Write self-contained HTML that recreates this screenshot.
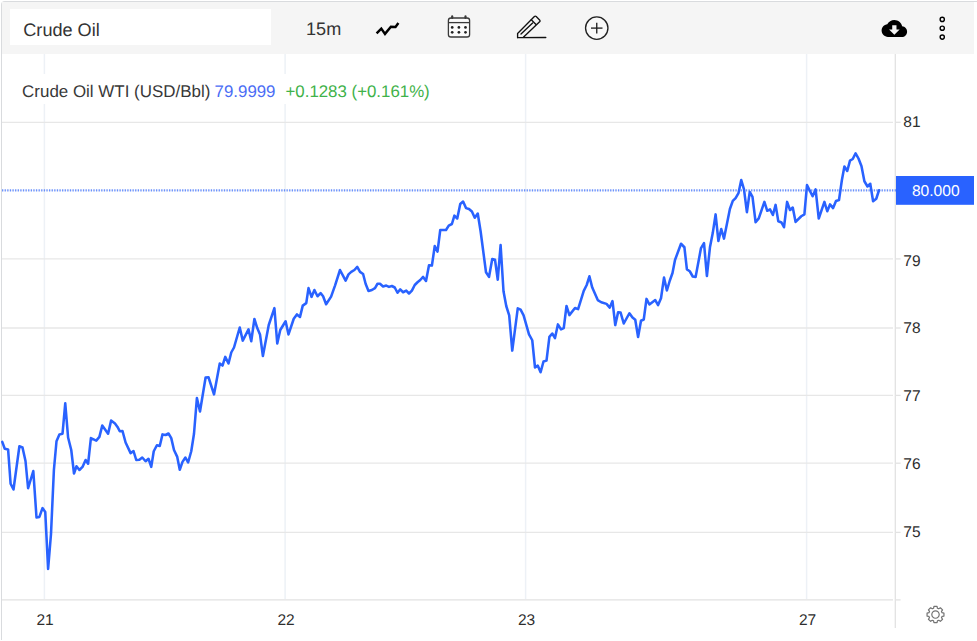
<!DOCTYPE html>
<html>
<head>
<meta charset="utf-8">
<title>Crude Oil</title>
<style>
html,body{margin:0;padding:0;background:#fff;}
body{width:977px;height:641px;overflow:hidden;position:relative;font-family:"Liberation Sans",sans-serif;color:#222;}
#frame{position:absolute;left:1px;top:1px;width:980px;height:639px;border:1px solid #d9dbde;border-bottom:none;border-radius:4px 0 0 0;box-sizing:border-box;}
#toolbar{position:absolute;left:2px;top:2px;width:972px;height:52px;background:#f5f5f5;}
#search{position:absolute;left:10px;top:9px;width:260.5px;height:36px;background:#fff;}
.tt{position:absolute;font-size:18px;line-height:20px;white-space:nowrap;color:#333;}
#chart{position:absolute;left:0;top:0;}
#legend{position:absolute;left:14px;top:74px;height:30px;width:424px;background:#fff;}
#legend span{position:absolute;top:3px;font-size:16.85px;line-height:30px;white-space:nowrap;}
svg text{font-family:"Liberation Sans",sans-serif;text-rendering:geometricPrecision;}
.ax text{font-size:15.5px;fill:#2e2e2e;}
.ax text.pl{font-size:15.6px;fill:#fff;}
.tb text{font-size:18.1px;fill:#333;}
.lg text{font-size:16.85px;}.lg text.l1{font-size:16.96px;}
.lg .l1{fill:#383838;}.lg .l2{fill:#4a6cf5;}.lg .l3{fill:#3fb24a;}
</style>
</head>
<body>
<div id="frame"></div>
<div id="toolbar"></div>
<div id="search"></div>

<svg id="chart" width="977" height="641" viewBox="0 0 977 641">
  <!-- vertical grid -->
  <g stroke="#edf1f6" stroke-width="1.5">
    <line x1="44.4" y1="54" x2="44.4" y2="599"/>
    <line x1="285.1" y1="54" x2="285.1" y2="599"/>
    <line x1="525.6" y1="54" x2="525.6" y2="599"/>
    <line x1="806.6" y1="54" x2="806.6" y2="599"/>
  </g>
  <!-- horizontal grid -->
  <g stroke="#e7e7e7" stroke-width="1.3">
    <line x1="2" y1="122.3" x2="893" y2="122.3"/>
    <line x1="2" y1="190.4" x2="893" y2="190.4" opacity="0.25"/>
    <line x1="2" y1="258.9" x2="893" y2="258.9"/>
    <line x1="2" y1="328" x2="893" y2="328"/>
    <line x1="2" y1="395.4" x2="893" y2="395.4"/>
    <line x1="2" y1="463.2" x2="893" y2="463.2"/>
    <line x1="2" y1="532.4" x2="893" y2="532.4"/>
  </g>
  <!-- axis lines -->
  <g stroke="#e2e2e2" stroke-width="1.3">
    <line x1="895.3" y1="54" x2="895.3" y2="628"/>
    <line x1="2" y1="599.9" x2="893" y2="599.9"/>
    <line x1="896" y1="599.9" x2="900.6" y2="599.9"/>
  </g>
  <g id="series"><polyline id="ln" fill="none" stroke="#2962ff" stroke-width="2.55" stroke-linejoin="round" stroke-linecap="round" points="2.25,441.9 4.75,448.75 8.1,449.4 10.6,483.75 13.5,489.5 19.4,446.25 22.5,447.5 25.5,461 28.1,488.25 33.3,471 36.5,517.5 39.4,516.9 42.5,508.1 45.25,511.9 48.1,568.9 51,534 53.9,470 56.5,441.25 59.4,434.4 62.5,433.75 65.25,403.3 68.1,437.5 71.25,450 74,473.5 76.5,466.25 79.4,470 82.5,466.9 85.6,460 88.1,463.75 90.9,438.1 96.25,440.6 99.4,436.9 102.25,425.6 108.1,433.75 111.1,420.6 115,423.5 117.5,426.9 119.75,431.25 122.5,431 125.6,442.5 130.6,453.1 133.5,451 136.25,460 139.4,459.75 142.25,457.5 145.6,461.25 148.5,458.75 151.25,466.9 153.75,451.25 156.9,445.25 159.75,446 162.5,434.4 165.6,435 168.5,433.5 171.25,438.1 174,450 177.25,456.9 179.75,469.75 182.5,461.9 185.4,457.5 188.1,462.5 191.25,451.25 194,433.75 196.9,398.1 200,411.5 205.6,377.5 208.5,377.25 214,394.4 219.75,363.5 222.5,365.6 225.25,356.9 228.5,363.5 231.25,352.5 234,347.5 239.75,327.5 242.75,340.6 248.5,329.4 251.25,341.25 254.4,319 257.25,328.1 260,334.4 262.9,356 268.75,325 274.4,308.1 277.25,343.5 280.25,330 285.6,321.25 288.5,334.4 293.75,318.75 296.9,314.4 300,316.9 302.75,305.6 306.25,303.1 308.5,288.1 311.5,296.9 314.4,290 317.5,296.25 320.6,293.1 323.1,296.25 326.1,304.2 331.1,296.6 335,285.6 340,270 345.6,280.6 348.5,274.4 351.25,271.9 354.4,270 357.25,266.9 360,271.9 363.1,274 365.6,283.75 368.5,291 371.9,290 375,288.1 377.5,283.75 380,283.75 383.1,286.5 386.25,285.6 389,286.9 391.9,286 394.75,287.5 397.5,292.75 400.25,289.4 403.1,292.25 406.25,290.6 409,293.5 411.9,290.6 414.75,285 417.5,282.25 420.25,280 423.1,276.9 426,281 429,265.25 431.9,265.6 434.75,246 437.5,251.7 440.25,230 446,230 448.75,225.6 451.9,224 454.4,215.6 457.25,218.5 460.25,204 463.1,201.5 466,208.1 469,209 471.9,211.5 474.75,217.75 477.75,213.5 480.6,231.25 486,272.25 489,276.9 492.25,259 495,259.75 497.75,279.75 500.6,245.1 503.5,291.25 506.25,306 509.2,315.4 512.25,350.6 517.75,308.3 520.6,309.7 523.6,315.3 529,334.4 532.25,340.25 535,367.5 537.75,365.6 540.6,372.25 543.5,361.5 546.5,360.6 549.4,336.9 552.25,333.5 555,338.1 557.9,324.4 561,329.4 563.75,328.1 566.5,306 569.4,315.1 575,308 578.1,309.1 583.75,290.8 586.7,285 589.4,276.3 592.25,287.6 597.75,300.1 601.25,302.25 606.5,303.9 609.75,307.6 612.5,301.1 615.25,325.1 618.1,312.25 620.6,312.6 623.75,323.5 629.4,313.25 632.5,317.6 635.25,319.75 638.1,337 641,320.75 643.75,319.5 646.5,298.9 649.4,304.5 655.25,300.1 658.1,305.1 661,298.25 664,277.6 666.9,290.5 669.75,280.75 672.5,273 675,260 681,243.75 684.4,247.25 686.9,269.4 689.75,271.25 692.75,276.5 695.6,276.9 701,248.1 704,243.1 706.9,276 710,246.9 712.75,233.1 715.6,214.4 718.4,241 721.25,229 724,238.6 729.9,209 732.8,200.9 735.6,198.1 738.5,193.1 741.25,180 744,189.4 746.9,212.2 749.75,191.9 752.5,196.9 755.6,222.25 758.75,218.4 764.4,201.9 767.25,210.8 770,209.4 772.9,215 775.6,204.9 778.3,221.25 781.5,222.5 784,227.25 787.1,201.9 790,210 792.75,207.5 795.6,221.9 801.25,216.25 804.4,214.4 807,185.1 812.6,196.25 815.6,189.4 818.75,218.5 824.4,201.9 827.25,211.25 830,204.4 833.1,208.1 836,201 839,200 841.9,180 844.4,166.5 847.25,171 850,160.6 852.75,159 855.6,153.3 858.5,158.5 861.5,166.25 864.4,181.25 867.5,186.5 870.25,183.75 873.1,201.25 876.25,198.75 879,190.25"/></g>
  <!-- ticks -->
  <g stroke="#e2e2e2" stroke-width="1.3">
    <line x1="896" y1="122.3" x2="900.6" y2="122.3"/>
    <line x1="896" y1="258.9" x2="900.6" y2="258.9"/>
    <line x1="896" y1="328" x2="900.6" y2="328"/>
    <line x1="896" y1="395.4" x2="900.6" y2="395.4"/>
    <line x1="896" y1="463.2" x2="900.6" y2="463.2"/>
    <line x1="896" y1="532.4" x2="900.6" y2="532.4"/>
  </g>
  <!-- price line -->
  <line x1="2" y1="190.35" x2="896" y2="190.35" stroke="#2962ff" stroke-width="2.3" stroke-dasharray="1.3 1.31" opacity="0.68"/>
  <rect x="896" y="176" width="78" height="28.8" fill="#2962ff"/>
  <g class="ax">
    <text transform="translate(903.3 127.3)">81</text>
    <text transform="translate(903.3 265.5)">79</text>
    <text transform="translate(903.3 332.6)">78</text>
    <text transform="translate(903.3 400.8)">77</text>
    <text transform="translate(903.3 469.2)">76</text>
    <text transform="translate(903.3 536.65)">75</text>
    <text class="pl" transform="translate(911.9 196.3)">80.000</text>
    <text text-anchor="middle" transform="translate(45 624.7)">21</text>
    <text text-anchor="middle" transform="translate(286 624.7)">22</text>
    <text text-anchor="middle" transform="translate(526.6 624.7)">23</text>
    <text text-anchor="middle" transform="translate(807.6 624.7)">27</text>
  </g>
  <g class="tb">
    <text transform="translate(23.3 36.1)">Crude Oil</text>
    <text transform="translate(306 34.9)">15m</text>
  </g>
  <rect x="14" y="74" width="424" height="30" fill="#fff"/>
  <g class="lg">
    <text class="l1" transform="translate(22.1 96.6)">Crude Oil WTI (USD/Bbl)</text>
    <text class="l2" transform="translate(214.6 96.6)">79.9999</text>
    <text class="l3" transform="translate(285.5 96.6)">+0.1283 (+0.161%)</text>
  </g>
  <!-- toolbar icons -->
  <polyline points="376.6,33.3 381.3,28.6 385,33.9 390.9,26.7 395.5,27 398.4,23" fill="none" stroke="#000" stroke-width="2.45" stroke-linejoin="miter"/>
  <g fill="none" stroke="#3a3a3a" stroke-width="1.3">
    <rect x="448.4" y="18" width="21.2" height="19" rx="2.6" fill="#fbfbfb"/>
    <line x1="448.4" y1="22.6" x2="469.6" y2="22.6"/>
    <line x1="452.2" y1="16.4" x2="452.2" y2="18" stroke-width="2.2" stroke-linecap="round"/>
    <line x1="465.5" y1="16.4" x2="465.5" y2="18" stroke-width="2.2" stroke-linecap="round"/>
  </g>
  <g fill="#222">
    <circle cx="452.2" cy="27.4" r="1.35"/><circle cx="458.9" cy="27.4" r="1.35"/><circle cx="465.5" cy="27.4" r="1.35"/>
    <circle cx="452.2" cy="32.3" r="1.35"/><circle cx="458.9" cy="32.3" r="1.35"/><circle cx="465.5" cy="32.3" r="1.35"/>
  </g>
  <g fill="none" stroke="#111" stroke-width="1.35" stroke-linejoin="round" stroke-linecap="round">
    <path d="M517.6 37.7 L517.6 33.4 L534.4 16.6 Q535.3 15.7 536.2 16.6 L539.6 20 Q540.5 20.9 539.6 21.8 L523.4 37.3 L517.6 37.7 L545.8 37.5"/>
    <line x1="531.3" y1="19.7" x2="536" y2="24.4"/>
    <line x1="521" y1="34" x2="532.6" y2="23"/>
  </g>
  <g fill="none" stroke="#222" stroke-width="1.35">
    <circle cx="596.75" cy="28.1" r="11.2" fill="#f9f9f9"/>
    <line x1="591" y1="28.1" x2="602.5" y2="28.1"/>
    <line x1="596.75" y1="22.8" x2="596.75" y2="33.5"/>
  </g>
  <g transform="translate(881.6,15.7) scale(1.0625)">
    <path fill="#000" d="M19.35 10.04C18.67 6.59 15.64 4 12 4 9.11 4 6.6 5.64 5.35 8.04 2.34 8.36 0 10.91 0 14c0 3.31 2.69 6 6 6h13c2.76 0 5-2.24 5-5 0-2.64-2.05-4.78-4.65-4.96zM17 13l-5 5-5-5h3V9h4v4h3z"/>
  </g>
  <g fill="none" stroke="#000" stroke-width="1.4">
    <circle cx="942.25" cy="19.4" r="2.1"/><circle cx="942.25" cy="28.2" r="2.1"/><circle cx="942.25" cy="37.1" r="2.1"/>
  </g>
  <!-- gear -->
  <g id="gear" transform="translate(935.5,614.55)" fill="none" stroke="#737373" stroke-width="1.2" stroke-linejoin="round"><path d="M-1.93 -6.28 L-1.56 -8.11 L1.56 -8.11 L1.93 -6.28 L3.25 -5.76 L4.86 -6.80 L7.07 -4.67 L5.99 -3.13 L6.53 -1.86 L8.44 -1.50 L8.44 1.50 L6.53 1.86 L5.99 3.13 L7.07 4.67 L4.86 6.80 L3.25 5.76 L1.93 6.28 L1.56 8.11 L-1.56 8.11 L-1.93 6.28 L-3.25 5.76 L-4.86 6.80 L-7.07 4.67 L-5.99 3.13 L-6.53 1.86 L-8.44 1.50 L-8.44 -1.50 L-6.53 -1.86 L-5.99 -3.13 L-7.07 -4.67 L-4.86 -6.80 L-3.25 -5.76 Z"/><circle r="3.7"/></g>

</svg>

</body>
</html>
